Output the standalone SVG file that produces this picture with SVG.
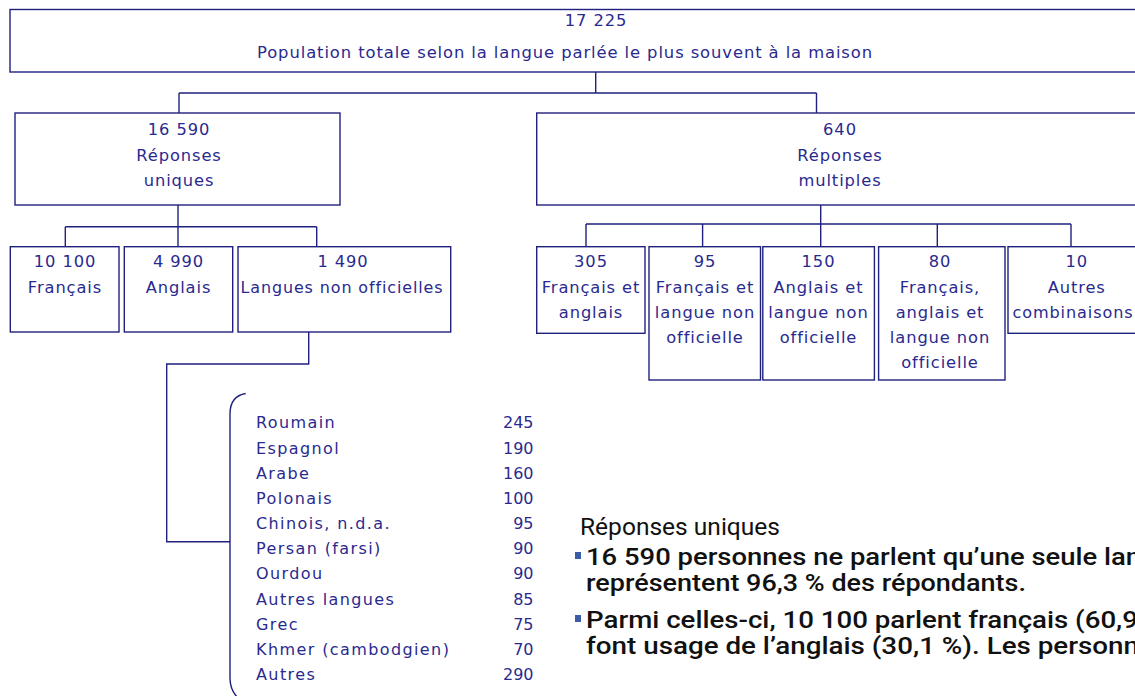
<svg xmlns="http://www.w3.org/2000/svg" width="1135" height="696" viewBox="0 0 1135 696">
<style>
.box{fill:#fff;stroke:#20207f;stroke-width:1.4}
.ln{fill:none;stroke:#20207f;stroke-width:1.4}
.t{font-family:"DejaVu Sans",sans-serif;font-size:16.3px;fill:#2a2a8e;text-anchor:middle;letter-spacing:0.9px}
.l{font-family:"DejaVu Sans",sans-serif;font-size:16px;fill:#2a2a8e;letter-spacing:1.4px}
.n{font-family:"DejaVu Sans",sans-serif;font-size:16px;fill:#2a2a8e;text-anchor:end}
.h{font-family:Roboto,"Liberation Sans",Arial,sans-serif;font-size:23px;fill:#111}
.hb{font-family:Roboto,"Liberation Sans",Arial,sans-serif;font-size:23px;font-weight:500;fill:#111}
.b{fill:#3b5ca8}
</style>
<rect width="1135" height="696" fill="#fff"/>
<g id="connectors">
<path class="ln" d="M595.7,72 V93 M179,93 H816.5 M179,93 V113 M816.5,93 V113"/>
<path class="ln" d="M178,205 V246.7 M65.3,226.7 H316.7 M65.3,226.7 V246.7 M316.7,226.7 V246.7"/>
<path class="ln" d="M308.7,332 V364 H166.7 V541.7 H230"/>
<path class="ln" d="M245.7,393.5 Q230,396 230,414 V678 Q230,690 238,698"/>
<path class="ln" d="M820.7,205 V246.7 M586,224 H1071 M586,224 V246.7 M702.6,224 V246.7 M937.3,224 V246.7 M1071,224 V246.7"/>
</g>
<g id="total">
<rect class="box" x="10" y="9.5" width="1140" height="62.5"/>
<text class="t" x="596" y="26">17 225</text>
<text class="t" x="565" y="58" textLength="616" lengthAdjust="spacingAndGlyphs">Population totale selon la langue parlée le plus souvent à la maison</text>
</g>
<g id="uniques">
<rect class="box" x="15" y="113" width="325" height="92"/>
<text class="t" x="179" y="135">16 590</text>
<text class="t" x="179" y="160.5">Réponses</text>
<text class="t" x="179" y="186">uniques</text>
</g>
<g id="multiples">
<rect class="box" x="536.7" y="113" width="610" height="92"/>
<text class="t" x="840" y="135">640</text>
<text class="t" x="840" y="160.5">Réponses</text>
<text class="t" x="840" y="186">multiples</text>
</g>
<g id="francais">
<rect class="box" x="10.3" y="246.7" width="108.7" height="85.3"/>
<text class="t" x="65" y="266.7">10 100</text>
<text class="t" x="65" y="292.5">Français</text>
</g>
<g id="anglais">
<rect class="box" x="124.3" y="246.7" width="108.4" height="85.3"/>
<text class="t" x="178.5" y="266.7">4 990</text>
<text class="t" x="178.5" y="292.5">Anglais</text>
</g>
<g id="nonoff">
<rect class="box" x="238" y="246.7" width="212.7" height="85.3"/>
<text class="t" x="343" y="266.7">1 490</text>
<text class="t" x="342" y="292.5" textLength="203" lengthAdjust="spacingAndGlyphs">Langues non officielles</text>
</g>
<g id="fr-an">
<rect class="box" x="536.7" y="246.7" width="108.3" height="86.6"/>
<text class="t" x="591" y="266.7">305</text>
<text class="t" x="591" y="292.5">Français et</text>
<text class="t" x="591" y="318">anglais</text>
</g>
<g id="fr-no">
<rect class="box" x="649" y="246.7" width="111.5" height="133.3"/>
<text class="t" x="705" y="266.7">95</text>
<text class="t" x="705" y="292.5">Français et</text>
<text class="t" x="705" y="318">langue non</text>
<text class="t" x="705" y="343.3">officielle</text>
</g>
<g id="an-no">
<rect class="box" x="762.8" y="246.7" width="111.6" height="133.3"/>
<text class="t" x="818.5" y="266.7">150</text>
<text class="t" x="818.5" y="292.5">Anglais et</text>
<text class="t" x="818.5" y="318">langue non</text>
<text class="t" x="818.5" y="343.3">officielle</text>
</g>
<g id="fr-an-no">
<rect class="box" x="878.6" y="246.7" width="126.4" height="133.3"/>
<text class="t" x="940" y="266.7">80</text>
<text class="t" x="940" y="292.5">Français,</text>
<text class="t" x="940" y="318">anglais et</text>
<text class="t" x="940" y="343.3">langue non</text>
<text class="t" x="940" y="368.3">officielle</text>
</g>
<g id="autres-comb">
<rect class="box" x="1008" y="246.7" width="140" height="86.6"/>
<text class="t" x="1076.7" y="266.7">10</text>
<text class="t" x="1076.7" y="292.5">Autres</text>
<text class="t" x="1073" y="318" textLength="121" lengthAdjust="spacingAndGlyphs">combinaisons</text>
</g>
<g id="liste">
<text class="l" x="256" y="428.3">Roumain</text><text class="n" x="533.5" y="428.3">245</text>
<text class="l" x="256" y="453.5">Espagnol</text><text class="n" x="533.5" y="453.5">190</text>
<text class="l" x="256" y="478.7">Arabe</text><text class="n" x="533.5" y="478.7">160</text>
<text class="l" x="256" y="503.8">Polonais</text><text class="n" x="533.5" y="503.8">100</text>
<text class="l" x="256" y="529">Chinois, n.d.a.</text><text class="n" x="533.5" y="529">95</text>
<text class="l" x="256" y="554.2">Persan (farsi)</text><text class="n" x="533.5" y="554.2">90</text>
<text class="l" x="256" y="579.4">Ourdou</text><text class="n" x="533.5" y="579.4">90</text>
<text class="l" x="256" y="604.6">Autres langues</text><text class="n" x="533.5" y="604.6">85</text>
<text class="l" x="256" y="629.8">Grec</text><text class="n" x="533.5" y="629.8">75</text>
<text class="l" x="256" y="655">Khmer (cambodgien)</text><text class="n" x="533.5" y="655">70</text>
<text class="l" x="256" y="680.2">Autres</text><text class="n" x="533.5" y="680.2">290</text>
</g>
<g id="texte">
<text class="h" x="580" y="535" textLength="200" lengthAdjust="spacingAndGlyphs">Réponses uniques</text>
<rect class="b" x="575" y="552" width="6" height="7"/>
<text class="hb" x="586" y="565" textLength="555" lengthAdjust="spacingAndGlyphs">16 590 personnes ne parlent qu’une seule lan</text>
<text class="hb" x="586" y="591" textLength="440" lengthAdjust="spacingAndGlyphs">représentent 96,3 % des répondants.</text>
<rect class="b" x="575" y="615" width="6" height="7"/>
<text class="hb" x="586" y="628" textLength="552" lengthAdjust="spacingAndGlyphs">Parmi celles-ci, 10 100 parlent français (60,9</text>
<text class="hb" x="586" y="654" textLength="553" lengthAdjust="spacingAndGlyphs">font usage de l’anglais (30,1 %). Les personn</text>
</g>
</svg>
